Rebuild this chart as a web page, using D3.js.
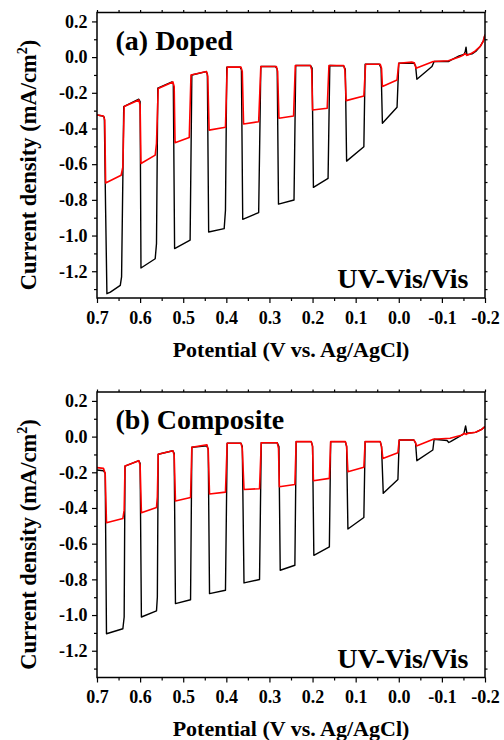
<!DOCTYPE html>
<html>
<head>
<meta charset="utf-8">
<style>
  body { margin: 0; background: #fff; }
  svg text { font-family: "Liberation Serif", "Times New Roman", serif; font-weight: bold; fill: #000; }
</style>
</head>
<body>
<div id="chart"></div>
<script src="https://d3js.org/d3.v7.min.js"></script>
<script>
// potential (V vs. Ag/AgCl), current density (mA/cm2) -- vertices
const dopedUvVis = [
  [0.700,-0.324],[0.687,-0.330],[0.683,-0.337],[0.680,-0.858],[0.677,-1.326],[0.669,-1.317],
  [0.646,-1.279],[0.643,-1.232],[0.640,-0.671],[0.638,-0.277],[0.603,-0.236],[0.600,-0.249],
  [0.598,-1.182],[0.565,-1.130],[0.562,-1.045],[0.559,-0.174],[0.526,-0.139],[0.523,-0.150],
  [0.520,-1.073],[0.484,-1.026],[0.480,-0.100],[0.447,-0.081],[0.444,-0.094],[0.441,-0.980],
  [0.405,-0.961],[0.402,-0.858],[0.399,-0.056],[0.368,-0.056],[0.365,-0.071],[0.362,-0.909],
  [0.325,-0.871],[0.320,-0.053],[0.286,-0.053],[0.282,-0.068],[0.279,-0.824],[0.243,-0.801],
  [0.239,-0.047],[0.205,-0.047],[0.201,-0.062],[0.198,-0.730],[0.164,-0.680],[0.160,-0.047],
  [0.128,-0.049],[0.124,-0.068],[0.121,-0.583],[0.081,-0.502],[0.078,-0.040],[0.045,-0.040],
  [0.041,-0.062],[0.038,-0.371],[0.004,-0.281],[0.000,-0.034],[-0.035,-0.034],[-0.039,-0.049],
  [-0.042,-0.124],[-0.077,-0.053],[-0.082,-0.025],[-0.115,-0.025],[-0.122,-0.016],[-0.140,0.007],
  [-0.151,0.015],[-0.154,0.030],[-0.156,0.056],[-0.158,0.013],[-0.170,0.018],[-0.180,0.035],
  [-0.189,0.060],[-0.196,0.090],[-0.200,0.125]
];
const dopedVis = [
  [0.700,-0.324],[0.685,-0.330],[0.682,-0.352],[0.680,-0.705],[0.644,-0.662],[0.640,-0.615],
  [0.637,-0.277],[0.603,-0.240],[0.600,-0.268],[0.598,-0.596],[0.565,-0.549],[0.562,-0.484],
  [0.558,-0.176],[0.524,-0.139],[0.521,-0.165],[0.519,-0.480],[0.486,-0.450],[0.482,-0.100],
  [0.446,-0.081],[0.443,-0.109],[0.440,-0.409],[0.402,-0.393],[0.398,-0.056],[0.366,-0.056],
  [0.363,-0.081],[0.360,-0.375],[0.325,-0.362],[0.320,-0.053],[0.284,-0.053],[0.281,-0.081],
  [0.278,-0.343],[0.244,-0.330],[0.240,-0.047],[0.205,-0.047],[0.202,-0.071],[0.200,-0.296],
  [0.166,-0.287],[0.162,-0.047],[0.128,-0.047],[0.125,-0.071],[0.122,-0.244],[0.081,-0.218],
  [0.077,-0.040],[0.043,-0.040],[0.040,-0.062],[0.038,-0.165],[0.004,-0.128],[0.000,-0.034],
  [-0.030,-0.028],[-0.036,-0.032],[-0.040,-0.062],[-0.080,-0.025],[-0.115,-0.020],[-0.140,0.000],
  [-0.150,0.012],[-0.154,0.020],[-0.158,0.010],[-0.166,0.018],[-0.175,0.030],[-0.189,0.060],
  [-0.196,0.090],[-0.200,0.125]
];
const compositeUvVis = [
  [0.700,-0.187],[0.685,-0.191],[0.681,-0.206],[0.678,-1.105],[0.640,-1.077],[0.637,-1.011],
  [0.635,-0.165],[0.603,-0.135],[0.600,-0.150],[0.597,-1.011],[0.562,-0.977],[0.560,-0.899],
  [0.558,-0.099],[0.524,-0.079],[0.521,-0.094],[0.518,-0.936],[0.483,-0.914],[0.480,-0.060],
  [0.445,-0.052],[0.442,-0.071],[0.439,-0.880],[0.402,-0.861],[0.398,-0.037],[0.366,-0.037],
  [0.363,-0.056],[0.359,-0.820],[0.323,-0.801],[0.319,-0.034],[0.282,-0.034],[0.278,-0.056],
  [0.275,-0.749],[0.241,-0.721],[0.238,-0.028],[0.203,-0.028],[0.200,-0.052],[0.197,-0.665],
  [0.161,-0.618],[0.158,-0.028],[0.124,-0.028],[0.121,-0.056],[0.118,-0.518],[0.081,-0.453],
  [0.078,-0.028],[0.043,-0.028],[0.040,-0.056],[0.036,-0.318],[0.002,-0.240],[-0.001,-0.019],
  [-0.035,-0.019],[-0.039,-0.037],[-0.042,-0.135],[-0.079,-0.075],[-0.082,-0.015],[-0.112,-0.022],
  [-0.116,-0.033],[-0.120,-0.028],[-0.140,0.000],[-0.151,0.015],[-0.155,0.060],[-0.158,0.019],
  [-0.178,0.024],[-0.192,0.040],[-0.200,0.056]
];
const compositeVis = [
  [0.700,-0.174],[0.685,-0.178],[0.681,-0.206],[0.678,-0.483],[0.640,-0.459],[0.637,-0.412],
  [0.635,-0.165],[0.603,-0.135],[0.600,-0.159],[0.597,-0.427],[0.562,-0.397],[0.560,-0.337],
  [0.558,-0.099],[0.524,-0.079],[0.521,-0.103],[0.518,-0.361],[0.483,-0.341],[0.480,-0.060],
  [0.445,-0.046],[0.442,-0.075],[0.439,-0.322],[0.402,-0.311],[0.398,-0.037],[0.366,-0.037],
  [0.363,-0.066],[0.359,-0.296],[0.323,-0.292],[0.319,-0.034],[0.282,-0.034],[0.279,-0.066],
  [0.277,-0.281],[0.241,-0.268],[0.238,-0.028],[0.203,-0.028],[0.200,-0.056],[0.198,-0.247],
  [0.161,-0.234],[0.158,-0.028],[0.124,-0.028],[0.121,-0.052],[0.118,-0.197],[0.081,-0.172],
  [0.078,-0.028],[0.043,-0.028],[0.040,-0.056],[0.037,-0.122],[0.002,-0.090],[-0.001,-0.019],
  [-0.035,-0.019],[-0.039,-0.034],[-0.041,-0.052],[-0.080,-0.015],[-0.119,-0.009],[-0.145,0.008],
  [-0.153,0.019],[-0.156,0.012],[-0.160,0.018],[-0.178,0.024],[-0.192,0.040],[-0.200,0.056]
];

const xTicks = [0.7, 0.6, 0.5, 0.4, 0.3, 0.2, 0.1, 0.0, -0.1, -0.2];
const xMinorTicks = [0.65, 0.55, 0.45, 0.35, 0.25, 0.15, 0.05, -0.05, -0.15];
const yTicks = [0.2, 0.0, -0.2, -0.4, -0.6, -0.8, -1.0, -1.2];
const yMinorTicks = [0.1, -0.1, -0.3, -0.5, -0.7, -0.9, -1.1, -1.3];

const panels = [
  { label: "(a) Doped", uv: dopedUvVis, vis: dopedVis, top: 12.5 },
  { label: "(b) Composite", uv: compositeUvVis, vis: compositeVis, top: 392 }
];

const width = 504, height = 740;
const left = 97, right = 485, panelH = 285.5;

const svg = d3.select("#chart").append("svg")
  .attr("width", width)
  .attr("height", height);

const x = d3.scaleLinear().domain([0.7, -0.2]).range([left, right]);
const fmt = d => d.toFixed(1);

panels.forEach((p, i) => {
  const bottom = p.top + panelH;
  const y = d3.scaleLinear().domain([-1.35, 0.25]).range([bottom, p.top]);
  const g = svg.append("g");

  g.append("clipPath").attr("id", "clip" + i)
    .append("rect")
    .attr("x", left).attr("y", p.top)
    .attr("width", right - left).attr("height", panelH);

  // minor ticks (all four sides) then major
  g.append("g").attr("transform", `translate(0,${bottom})`)
    .call(d3.axisBottom(x).tickValues(xMinorTicks).tickSize(3).tickFormat(""));
  g.append("g").attr("transform", `translate(0,${p.top})`)
    .call(d3.axisTop(x).tickValues(xTicks.concat(xMinorTicks)).tickSize(2.5).tickFormat(""));
  g.append("g").attr("transform", `translate(${left},0)`)
    .call(d3.axisLeft(y).tickValues(yMinorTicks).tickSize(3).tickFormat(""));
  g.append("g").attr("transform", `translate(${right},0)`)
    .call(d3.axisRight(y).tickValues(yTicks.concat(yMinorTicks)).tickSize(2.5).tickFormat(""));

  const xAxis = g.append("g").attr("transform", `translate(0,${bottom})`)
    .call(d3.axisBottom(x).tickValues(xTicks).tickSize(5).tickPadding(8).tickFormat(fmt));
  const yAxis = g.append("g").attr("transform", `translate(${left},0)`)
    .call(d3.axisLeft(y).tickValues(yTicks).tickSize(5).tickPadding(4.5).tickFormat(fmt));

  g.selectAll(".domain").remove();
  g.selectAll(".tick line").attr("stroke", "#000").attr("stroke-width", 1.2);
  [xAxis, yAxis].forEach(a => a.selectAll("text")
    .style("font-family", '"Liberation Serif", serif')
    .style("font-weight", "bold")
    .style("font-size", "18px"));

  const line = d3.line().x(d => x(d[0])).y(d => y(d[1]));
  const plot = g.append("g").attr("clip-path", `url(#clip${i})`);
  plot.append("path").datum(p.uv)
    .attr("d", line).attr("fill", "none")
    .attr("stroke", "#000").attr("stroke-width", 1.4).attr("stroke-linejoin", "round");
  plot.append("path").datum(p.vis)
    .attr("d", line).attr("fill", "none")
    .attr("stroke", "#ff0000").attr("stroke-width", 1.6).attr("stroke-linejoin", "round");

  g.append("rect")
    .attr("x", left).attr("y", p.top)
    .attr("width", right - left).attr("height", panelH)
    .attr("fill", "none").attr("stroke", "#000").attr("stroke-width", 1.5);

  g.append("text")
    .attr("x", 115.5).attr("y", p.top + 37)
    .style("font-size", "28px")
    .text(p.label);

  g.append("text")
    .attr("x", 468.5).attr("y", p.top + 275.5)
    .attr("text-anchor", "end")
    .style("font-size", "28px")
    .text("UV-Vis/Vis");

  g.append("text")
    .attr("x", (left + right) / 2).attr("y", bottom + 58.5)
    .attr("text-anchor", "middle")
    .style("font-size", "22px")
    .text("Potential (V vs. Ag/AgCl)");

  const yt = g.append("text")
    .attr("transform", `translate(35.5,${p.top + 152.5}) rotate(-90)`)
    .attr("text-anchor", "middle")
    .style("font-size", "22.5px");
  yt.append("tspan").text("Current density (mA/cm");
  yt.append("tspan").attr("dy", -9).style("font-size", "14px").text("2");
  yt.append("tspan").attr("dy", 9).text(")");
});
</script>
</body>
</html>
